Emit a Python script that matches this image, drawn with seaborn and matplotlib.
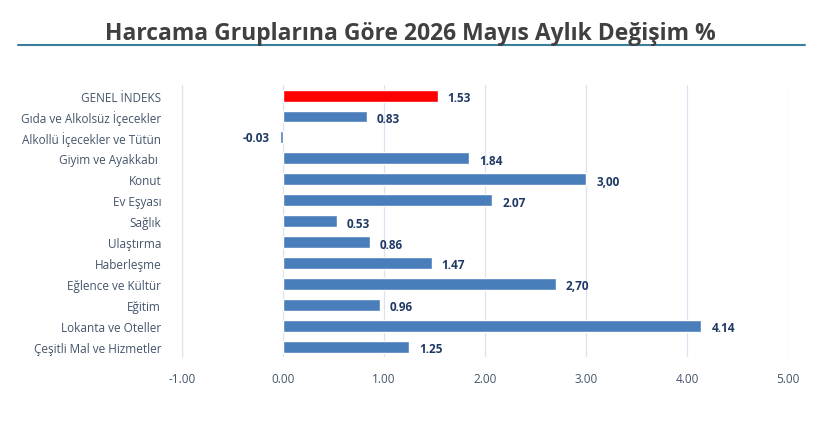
import matplotlib.pyplot as plt
import seaborn as sns
import pandas as pd

categories = ["GENEL İNDEKS", "Gıda ve Alkolsüz İçecekler", "Alkollü İçecekler ve Tütün",
              "Giyim ve Ayakkabı ", "Konut", "Ev Eşyası", "Sağlık", "Ulaştırma",
              "Haberleşme", "Eğlence ve Kültür", "Eğitim", "Lokanta ve Oteller",
              "Çeşitli Mal ve Hizmetler"]
values = [1.53, 0.83, -0.03, 1.84, 3.00, 2.07, 0.53, 0.86, 1.47, 2.70, 0.96, 4.14, 1.25]
value_labels = ["1.53", "0.83", "-0.03", "1.84", "3,00", "2.07", "0.53", "0.86",
                "1.47", "2,70", "0.96", "4.14", "1.25"]
ticks = [-1, 0, 1, 2, 3, 4, 5]
tick_labels = ["-1.00", "0.00", "1.00", "2.00", "3.00", "4.00", "5.00"]

df = pd.DataFrame({"grup": categories, "deger": values})
df["renk"] = ["genel"] + ["diger"] * (len(categories) - 1)

sns.set_style("white")
plt.rcParams["font.family"] = ["Open Sans", "DejaVu Sans"]

fig = plt.figure(figsize=(8.2, 4.35), dpi=100)
ax = fig.add_axes([0.222, 0.177, 0.739, 0.625])

sns.barplot(data=df, y="grup", x="deger", hue="renk", orient="h",
            palette={"genel": "#ff0000", "diger": "#4a7ebb"}, saturation=1,
            dodge=False, width=0.57, legend=False, ax=ax)

ax.set_xlim(-1, 5)
ax.set_ylim(len(categories) - 0.5, -0.5)
ax.set_xticks(ticks)
ax.set_xticklabels(tick_labels, color="#44546a", fontsize=8.5)
ax.set_yticks(range(len(categories)))
ax.set_yticklabels(categories, color="#44546a", fontsize=8.5)
ax.tick_params(axis="x", length=0, pad=11)
ax.tick_params(axis="y", length=0, pad=15)
ax.set_xlabel("")
ax.set_ylabel("")

ax.grid(axis="x", color="#dce3ee", linewidth=0.9)
ax.set_axisbelow(True)
for s in ["top", "right", "bottom"]:
    ax.spines[s].set_visible(False)
ax.spines["left"].set_color("#dce3ee")

for i, (v, lab) in enumerate(zip(values, value_labels)):
    if v >= 0:
        ax.text(v + 0.1, i + 0.1, lab, va="center", ha="left", fontsize=8.5,
                fontweight="bold", color="#1f3864")
    else:
        ax.text(v - 0.1, i, lab, va="center", ha="right", fontsize=8.5,
                fontweight="bold", color="#1f3864")

fig.text(0.5, 0.922, "Harcama Gruplarına Göre 2026 Mayıs Aylık Değişim %",
         ha="center", va="center", fontsize=16.5, fontweight="bold", color="#404040")
fig.add_artist(plt.Line2D([0.022, 0.982], [0.895, 0.895], color="#3b7d9c",
                          linewidth=1.5, transform=fig.transFigure))

fig.savefig("out.png", dpi=100)
